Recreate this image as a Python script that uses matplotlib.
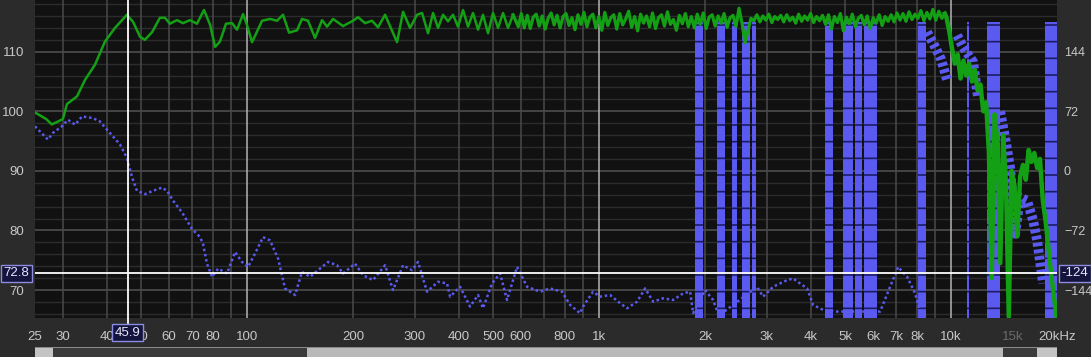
import numpy as np
import matplotlib
matplotlib.use('Agg')
import matplotlib.pyplot as plt
from matplotlib.patches import Rectangle

W, H = 1091, 357
plt.rcParams['font.family'] = ['Liberation Sans', 'DejaVu Sans']
plt.rcParams['hatch.linewidth'] = 1.2

# SPL (green) - smooth low part, frequencies
spl_freq = [25.0, 26.9, 27.9, 29.1, 30.0, 30.8, 32.9, 34.7, 37.0, 39.5, 42.2, 45.6, 47.5, 49.7, 51.3,
            53.8, 56.6, 58.5, 60.4, 63.3, 65.8, 68.9, 72.1, 75.5, 78.6, 81.2, 83.8, 87.2, 90.7, 93.7,
            97.5, 100.0, 103.4, 110.4, 116.3, 121.7, 126.6, 131.7, 138.8, 143.3, 149.1, 156.1, 163.4,
            168.9, 175.6, 187.5, 200.2, 206.8, 216.5, 226.6, 235.7, 246.8, 266.9, 277.6, 290.6, 304.2,
            314.3, 326.9, 337.8, 349.0, 360.6, 372.6, 384.9, 397.7, 411.0, 424.6, 438.7, 453.4, 468.3,
            484.0, 500.0, 516.8, 533.9, 551.6, 570.0]
spl_db = [99.8, 98.7, 97.8, 98.3, 98.7, 101.2, 102.5, 105.3, 107.8, 111.7, 114.0, 116.2, 115.0, 112.5, 112.0,
          113.3, 115.7, 115.7, 114.7, 115.3, 114.8, 115.3, 114.7, 117.0, 114.5, 110.8, 111.7, 114.7, 114.8, 113.7,
          116.3, 114.5, 111.6, 115.2, 115.5, 115.2, 116.2, 113.2, 113.6, 115.5, 115.2, 112.3, 115.3,
          114.2, 115.5, 114.3, 115.2, 115.8, 114.8, 115.2, 114.1, 116.2, 111.6, 116.7, 114.0, 116.2,
          116.5, 113.1, 116.5, 114.0, 116.2, 115.1, 116.2, 114.2, 117.0, 114.2, 116.5, 113.7, 116.2,
          113.1, 116.5, 114.0, 116.5, 114.0, 116.2]

# SPL - noisy part 590 Hz .. 9.6 kHz (measurement on log grid)
spl_mid_db = [114.2, 116.4, 114.0, 116.1, 113.9, 115.8, 116.3, 114.3, 116.0, 113.8, 115.6, 116.5, 114.5,
              116.1, 114.0, 115.9, 116.4, 114.4, 115.7, 113.7, 116.2, 114.6, 116.6, 114.2, 115.8,
              116.3, 114.0, 115.9, 113.6, 116.6, 114.4, 115.7, 116.2, 113.8, 116.4, 114.5, 115.5, 116.8,
              114.1, 115.9, 113.5, 116.3, 114.8, 116.0, 114.2, 116.5, 113.9, 115.7, 116.2, 114.3, 116.7,
              114.6, 115.4, 113.6, 116.1, 114.7, 116.4, 114.2,
              115.9, 114.0, 116.3, 114.6, 116.5, 113.9, 115.8, 116.2, 114.3, 116.0, 114.8, 116.4, 114.1,
              115.7, 116.1, 114.2, 117.3, 114.8, 111.5, 113.5, 115.6,
              115.2, 116.2, 115.0, 116.0, 115.3, 116.3, 114.9, 115.9, 115.4, 116.1, 115.0, 116.2, 115.2,
              115.8, 114.8, 116.3, 115.1, 116.0, 115.3, 116.4, 114.9, 115.9, 115.2, 116.1,
              114.6, 116.2, 113.8, 115.9, 114.9, 116.4, 113.5, 115.8, 114.7, 116.3, 114.2, 115.6, 116.1,
              114.5, 116.0, 113.9, 115.7, 114.8, 116.2, 114.4, 115.9, 115.1,
              116.2, 115.0, 116.5, 115.3, 116.4, 115.1, 116.7, 115.4, 116.3, 115.6, 116.9, 115.2, 116.6,
              115.5, 117.1, 115.3, 116.8, 115.6, 116.4]
# SPL - roll-off 9.7 kHz .. 20 kHz
spl_hi_db = [115.8, 113.5, 110.5, 108.0, 109.5, 105.5, 108.5, 106.0, 108.0, 105.0, 107.0, 103.5, 104.5,
             100.0, 101.5, 93.0, 72.0, 99.5, 95.0, 74.5, 96.0, 88.0, 65.5, 90.0, 87.5, 79.0, 89.0, 91.0,
             88.5, 93.5, 91.5, 93.0, 90.5, 92.0, 85.0, 81.5, 77.0, 72.5, 68.5, 65.0]
spl_mid_freq = np.geomspace(590, 9600, len(spl_mid_db))
spl_hi_freq = np.geomspace(9700, 20000, len(spl_hi_db))

# Phase (blue dotted), degrees
ph_freq = [25.0, 27.2, 28.1, 29.8, 31.0, 32.5, 34.0, 36.5, 38.2, 40.8, 43.6, 45.6, 47.2, 48.7, 51.3, 54.1,
           57.4, 59.3, 61.7, 65.4, 69.8, 73.6, 75.0, 77.0, 79.6, 82.8, 87.8, 92.5, 96.8, 100.7, 105.4,
           111.1, 116.3, 122.6, 128.3, 137.0, 143.3, 151.1, 161.3, 170.0, 180.3, 187.5, 202.8, 213.6,
           228.1, 246.8, 260.0, 277.6, 294.5, 306.2, 324.8, 349.0, 370.2, 377.6, 403.0, 430.3, 453.4,
           468.3, 496.9, 523.6, 548.1, 585.2, 624.8, 680.3, 726.1, 785.4, 827.8, 883.6, 901.0, 962.0,
           1007, 1075, 1148, 1202, 1283, 1352, 1425, 1521, 1624, 1734, 1815, 1851, 2001, 2109, 2190,
           2812, 2925, 3123, 3422, 3559, 3901, 4057, 4331, 4746, 6290, 6714, 7074, 7504, 7907, 8166]
ph_deg = [54, 38, 46, 54, 62, 56, 66, 64, 60, 46, 32, 16, -8, -24, -28, -24,
          -20, -24, -36, -50, -70, -80, -88, -112, -128, -118, -124, -98, -110, -116, -100,
          -80, -84, -106, -142, -150, -122, -128, -118, -110, -114, -124, -112, -126,
          -132, -114, -144, -114, -120, -110, -146, -134, -136, -152, -140, -164, -150,
          -166, -136, -124, -156, -116, -140, -146, -142, -146, -162, -172, -164, -146,
          -152, -150, -160, -166, -158, -142, -158, -154, -156, -148, -146, -172, -144, -156, -175,
          -140, -152, -140, -132, -130, -142, -162, -168, -170, -170, -140, -116, -128, -148, -170]
# scattered phase clusters above 8 kHz
ph_hi_freq = [8551, 9010, 9373, 9745, np.nan, 10410, 10820, 11550, 11940, np.nan,
              13790, 14250, 14720, 15210, 15710, 16450, 17110, 17560, 18260]
ph_hi_deg = [168, 150, 135, 110, np.nan, 164, 150, 132, 88, np.nan,
             72, 40, 4, -76, -32, -36, -60, -84, -136]
# phase wrapping bands (Hz)
band_lo = [1875, 2165, 2388, 2550, 2722, 4387, 4937, 5340, 5662, 8061, 11110, 12660, 18510]
band_hi = [1976, 2281, 2468, 2687, 2794, 4623, 5270, 5590, 6166, 8496, 11250, 13790, 20000]

tick_freq = [25, 30, 40, 50, 60, 70, 80, 100, 200, 300, 400, 500, 600, 800, 1000,
             2000, 3000, 4000, 5000, 6000, 7000, 8000, 10000, 15000, 20000]
tick_lbl = ['25', '30', '40', '50', '60', '70', '80', '100', '200', '300', '400', '500', '600', '800', '1k',
            '2k', '3k', '4k', '5k', '6k', '7k', '8k', '10k', '15k', '20kHz']
grid_freq = [30, 40, 50, 60, 70, 80, 90, 200, 300, 400, 500, 600, 700, 800, 900,
             2000, 3000, 4000, 5000, 6000, 7000, 8000, 9000]
grid_bright = [100, 1000, 10000]

cursor_f, cursor_db, cursor_ph = 45.9, 72.8, -124

GREEN = '#14a014'
BLUE = '#5a5af0'
TXT = '#c8c8c8'

fig = plt.figure(figsize=(W / 100, H / 100), dpi=100, facecolor='#2b2b2b')
pos = [35 / W, 39 / H, 1022 / W, 318 / H]

# base axes: grid + left labels
ax = fig.add_axes(pos)
ax.set_facecolor('#111111')
ax.set_xscale('log')
ax.set_xlim(25, 20000)
ax.set_ylim(65.3, 118.68)
ax.set_yticks([70, 80, 90, 100, 110])
ax.set_yticks(np.arange(66, 119, 2), minor=True)
ax.grid(True, axis='y', which='minor', color='#2c2c2c', lw=1)
ax.grid(True, axis='y', which='major', color='#4e4e4e', lw=1.2)
for f in grid_freq:
    ax.axvline(f, color='#4a4a4a', lw=1.1)
for f in grid_bright:
    ax.axvline(f, color='#b4b4b4', lw=1.1)
ax.set_xticks(tick_freq)
ax.set_xticklabels(tick_lbl)
ax.xaxis.set_minor_locator(matplotlib.ticker.NullLocator())
ax.tick_params(axis='both', which='both', length=0, colors=TXT, labelsize=9.5)
ax.tick_params(axis='x', pad=9)
ax.tick_params(axis='y', pad=8)
for lbl in ax.get_xticklabels():
    if lbl.get_text() == '15k':
        lbl.set_color('#6a6a6a')
for s in ax.spines.values():
    s.set_visible(False)

# phase axes
ax2 = ax.twinx()
ax2.set_ylim(-177.8, 206.8)
ax2.set_yticks([144, 72, 0, -72, -144])
ax2.tick_params(axis='y', length=0, colors=TXT, labelsize=9, pad=5)
ax2.bar(band_lo, [360] * len(band_lo), width=np.subtract(band_hi, band_lo), bottom=-180,
        align='edge', color=BLUE, edgecolor='#1c1c66', linewidth=0, hatch='-')
ax2.plot(ph_freq, ph_deg, color=BLUE, lw=1.8, ls=(0, (1, 1.1)))
ax2.plot(ph_hi_freq, ph_hi_deg, color=BLUE, lw=7, ls=(0, (0.4, 0.3)))
for s in ax2.spines.values():
    s.set_visible(False)

# SPL axes on top
ax3 = ax.twinx()
ax3.set_ylim(65.3, 118.68)
ax3.set_yticks([])
ax3.plot(spl_freq, spl_db, color=GREEN, lw=1.8, solid_joinstyle='round')
ax3.plot(np.r_[spl_freq[-1], spl_mid_freq], np.r_[spl_db[-1], spl_mid_db], color=GREEN, lw=2.3)
ax3.plot(np.r_[spl_mid_freq[-1], spl_hi_freq], np.r_[spl_mid_db[-1], spl_hi_db], color=GREEN, lw=3.2)
ax3.axvline(cursor_f, ymin=-0.016, ymax=1, color='white', lw=1.3, clip_on=False)
ax3.axhline(cursor_db, color='white', lw=1.3)
for s in ax3.spines.values():
    s.set_visible(False)
ax3.set_xlim(25, 20000)

# cursor read-outs
box = dict(boxstyle='square,pad=0.18', fc='#14143c', ec='#8c8ce0', lw=1)
fig.text(16.5 / W, 1 - 273.5 / H, f'{cursor_db}', ha='center', va='center', color='#e6e6ff', fontsize=9.5, bbox=box)
fig.text(1075 / W, 1 - 273.5 / H, f'{cursor_ph}', ha='center', va='center', color='#e6e6ff', fontsize=9.5, bbox=box)
fig.text(127.5 / W, 1 - 332.5 / H, f'{cursor_f}', ha='center', va='center', color='#e6e6ff', fontsize=9.5, bbox=box)

# scrollbar
def rect(x0, x1, y0, y1, c):
    fig.add_artist(Rectangle((x0 / W, 1 - y1 / H), (x1 - x0) / W, (y1 - y0) / H,
                             transform=fig.transFigure, color=c, lw=0))

rect(35, 1057, 347, 357, '#3a3a3a')
rect(307, 1003, 348, 357, '#b9b9b9')
rect(35, 53, 348, 357, '#c4c4c4')
rect(1037, 1057, 348, 357, '#c4c4c4')
rect(35, 1057, 347, 348, '#8a8a8a')

fig.savefig('out.png', dpi=100, facecolor=fig.get_facecolor())
